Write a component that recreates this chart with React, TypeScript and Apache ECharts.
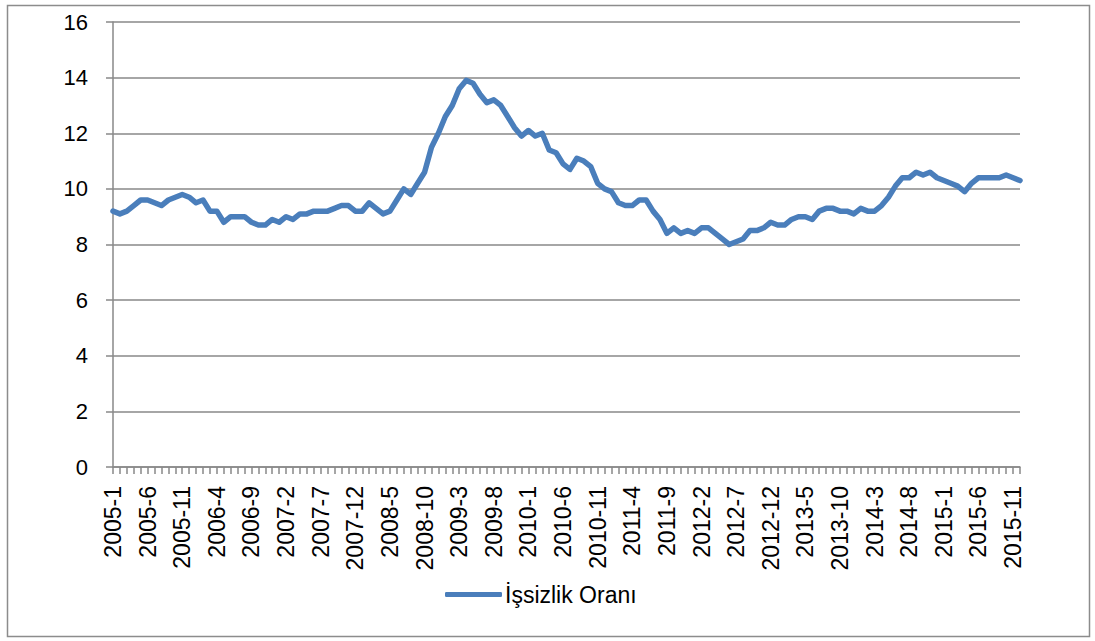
import React, { useEffect, useRef } from "react";
import * as echarts from "echarts";

const years = [2005, 2006, 2007, 2008, 2009, 2010, 2011, 2012, 2013, 2014, 2015];
const categories: string[] = [];
years.forEach((y) => {
  for (let m = 1; m <= 12; m++) categories.push(`${y}-${m}`);
});

const seriesName = "İşsizlik Oranı";
const unemployment = [
  9.2, 9.1, 9.2, 9.4, 9.6, 9.6, 9.5, 9.4, 9.6, 9.7,
  9.8, 9.7, 9.5, 9.6, 9.2, 9.2, 8.8, 9.0, 9.0, 9.0,
  8.8, 8.7, 8.7, 8.9, 8.8, 9.0, 8.9, 9.1, 9.1, 9.2,
  9.2, 9.2, 9.3, 9.4, 9.4, 9.2, 9.2, 9.5, 9.3, 9.1,
  9.2, 9.6, 10.0, 9.8, 10.2, 10.6, 11.5, 12.0, 12.6, 13.0,
  13.6, 13.9, 13.8, 13.4, 13.1, 13.2, 13.0, 12.6, 12.2, 11.9,
  12.1, 11.9, 12.0, 11.4, 11.3, 10.9, 10.7, 11.1, 11.0, 10.8,
  10.2, 10.0, 9.9, 9.5, 9.4, 9.4, 9.6, 9.6, 9.2, 8.9,
  8.4, 8.6, 8.4, 8.5, 8.4, 8.6, 8.6, 8.4, 8.2, 8.0,
  8.1, 8.2, 8.5, 8.5, 8.6, 8.8, 8.7, 8.7, 8.9, 9.0,
  9.0, 8.9, 9.2, 9.3, 9.3, 9.2, 9.2, 9.1, 9.3, 9.2,
  9.2, 9.4, 9.7, 10.1, 10.4, 10.4, 10.6, 10.5, 10.6, 10.4,
  10.3, 10.2, 10.1, 9.9, 10.2, 10.4, 10.4, 10.4, 10.4, 10.5, 10.4, 10.3,
];

const FONT = "'Liberation Sans', Arial, sans-serif";
const GRID_COLOR = "#898989";

export default function App() {
  const ref = useRef<HTMLDivElement>(null);
  useEffect(() => {
    if (!ref.current) return;
    const chart = echarts.init(ref.current, undefined, { renderer: "svg" });
    chart.setOption({
      animation: false,
      backgroundColor: "#ffffff",
      graphic: [
        {
          type: "rect",
          shape: { x: 7.5, y: 5.5, width: 1082, height: 631 },
          style: { fill: "none", stroke: "#8c8c8c", lineWidth: 1.5 },
          silent: true,
        },
      ],
      grid: { left: 113, right: 75, top: 22, bottom: 174, containLabel: false },
      legend: {
        top: 583,
        left: 445,
        icon: "roundRect",
        itemWidth: 57,
        itemHeight: 5,
        itemGap: 4,
        padding: 0,
        textStyle: { fontFamily: FONT, fontSize: 23, color: "#000", padding: [0, 0, 0, -2] },
        data: [seriesName],
      },
      xAxis: {
        type: "category",
        data: categories,
        boundaryGap: false,
        axisLine: { lineStyle: { color: GRID_COLOR, width: 1.5 } },
        axisTick: { show: true, interval: 0, length: 7, lineStyle: { color: GRID_COLOR, width: 1.5 } },
        axisLabel: {
          interval: 4,
          rotate: 90,
          margin: 19,
          fontFamily: FONT,
          fontSize: 23,
          color: "#000",
        },
        splitLine: { show: false },
      },
      yAxis: {
        type: "value",
        min: 0,
        max: 16,
        interval: 2,
        axisLine: { show: true, lineStyle: { color: GRID_COLOR, width: 1.5 } },
        axisTick: { show: true, length: 7, lineStyle: { color: GRID_COLOR, width: 1.5 } },
        axisLabel: { margin: 25, fontFamily: FONT, fontSize: 22, color: "#000" },
        splitLine: { show: true, lineStyle: { color: GRID_COLOR, width: 1.5 } },
      },
      series: [
        {
          name: seriesName,
          type: "line",
          data: unemployment,
          showSymbol: false,
          symbol: "none",
          lineStyle: { color: "#4A7EBB", width: 5.5, join: "round", cap: "round" },
          itemStyle: { color: "#4A7EBB" },
        },
      ],
    });
    return () => chart.dispose();
  }, []);
  return (
    <div
      ref={ref}
      style={{ position: "fixed", left: 0, top: 0, width: 1095, height: 641 }}
    />
  );
}
